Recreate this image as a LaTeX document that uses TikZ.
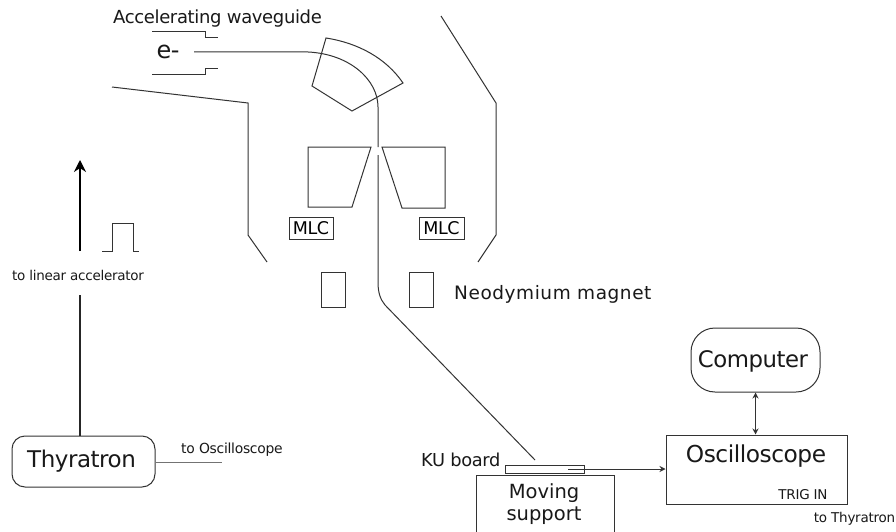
\documentclass[tikz,border=0pt]{standalone}
\usepackage{fontspec}
\setmainfont{DejaVu Sans}
\usetikzlibrary{arrows.meta}
\tikzset{
  ln/.style={draw=black!80,line width=1pt,line join=miter},
  lbl/.style={inner sep=0pt,text=black!90},
  boxn/.style={draw=black!80,line width=1pt,inner sep=0pt,minimum width=#1},
}
\newcommand{\fs}[2]{\fontsize{#1}{#2}\selectfont\addfontfeature{LetterSpace=-2}}
\begin{document}
\begin{tikzpicture}[x=1pt,y=-1pt]
\useasboundingbox (0,0) rectangle (896,532);
\fill[white] (0,0) rectangle (896,532);
% labels
\node[lbl,anchor=west] (wg) at (113,18.5) {\fs{18}{20}Accelerating waveguide};
\node[lbl] (e) at (168,52) {\fs{24}{26}e-};
\draw[ln] (152,32)--(205,32)--(205,38)--(218,38);
\draw[ln] (152,75)--(205,75)--(205,69)--(218,69);
% beam
\coordinate (b0) at (194,52);
\coordinate (b1) at (308,52);
\coordinate (b2) at (378,107);
\coordinate (b3) at (378,147);
\coordinate (b4) at (378,155);
\coordinate (b5) at (378,282);
\coordinate (b6) at (385,305);
\coordinate (b7) at (535,460);
\draw[ln] (b0)--(b1) .. controls (350,54) and (378,80) .. (b2)--(b3);
\draw[ln] (b4)--(b5) .. controls (378,292) and (380,299) .. (b6)--(b7);
% bending magnet
\draw[ln] (326,38) .. controls (358,43) and (386,58) .. (403,83) -- (352,111) -- (312,86) -- cycle;
% walls
\draw[ln] (112,87)--(248,103)--(248,235)--(267,262);
\draw[ln] (441,16)--(496,103)--(496,235)--(478,262);
% jaws
\draw[ln] (308,147)--(371,147)--(352,207)--(308,207)--cycle;
\draw[ln] (382,147)--(445,147)--(445,208)--(402,208)--cycle;
\node[boxn=44pt,minimum height=22pt] (mlc1) at (311,228) {\fs{17.5}{19}MLC};
\node[boxn=45pt,minimum height=22pt] (mlc2) at (441.5,228) {\fs{17.5}{19}MLC};
% neodymium
\node[boxn=24pt,minimum height=35pt] (n1) at (333,289.5) {};
\node[boxn=24pt,minimum height=35pt] (n2) at (421,289.5) {};
\node[lbl,anchor=west] (nd) at (454,294) {\fontsize{18.5}{20}\selectfont\addfontfeature{LetterSpace=3}Neodymium magnet};
% pulse
\draw[ln] (102,251)--(112,251)--(112,223)--(133,223)--(133,251)--(139,251);
% trigger line
\node[lbl] (tl) at (78,275) {\fs{13.5}{15}to linear accelerator};
\node[draw=black!80,line width=1pt,rounded corners=13pt,minimum width=143pt,minimum height=51pt,inner sep=0pt] (thy) at (83.5,461.5) {};
\node[lbl] (thyt) at (81.5,461) {\fs{23}{25}Thyratron};
\coordinate (a0) at (80,251);
\coordinate (a1) at (80,160);
\coordinate (a2) at (80,295);
\draw[black,line width=1.3pt,-{Stealth[length=12pt,width=12pt]}] (a0)--(a1);
\draw[black!85,line width=1.3pt] (a2)--(thy.north -| a2);
\coordinate (t1) at (222,462);
\draw[black!55,line width=1pt] (thy.east |- t1)--(t1);
\node[lbl,anchor=west] (to) at (181,449.5) {\fs{13.9}{15}to Oscilloscope};
% KU board
\node[lbl,anchor=west] (ku) at (421,459.5) {\fs{17.8}{19}KU board};
\node[boxn=79pt,minimum height=8pt] (kub) at (544.5,469) {};
\node[draw=black!80,line width=1pt,inner sep=0pt,minimum width=138pt,minimum height=60pt] (ms) at (545,505) {};
\node[lbl,align=center,font=\fontsize{19.5}{22}\selectfont] (mst) at (544,504) {Moving\\support};
\node[boxn=181pt,minimum height=69pt] (osc) at (756.5,469.5) {};
\node[lbl] (osct) at (756,456) {\fs{23.3}{25}Oscilloscope};
\node[lbl] (trig) at (803,495) {\fs{13.5}{15}TRIG IN};
\node[lbl] (tt) at (854.5,518.5) {\fs{13.5}{15}to Thyratron};
\node[draw=black!80,line width=1pt,rounded corners=24pt,minimum width=129pt,minimum height=64pt,inner sep=0pt] (comp) at (755.5,360) {};
\node[lbl] (compt) at (753,361) {\fs{22.8}{24}Computer};
\coordinate (k0) at (568,469);
\draw[ln,-{Stealth[length=6pt,width=6pt]}] (k0)--(osc.west |- k0);
\draw[ln,{Stealth[length=6pt,width=6pt]}-{Stealth[length=6pt,width=6pt]}] (comp.south)--(osc.north -| comp.south);
\end{tikzpicture}
\end{document}
